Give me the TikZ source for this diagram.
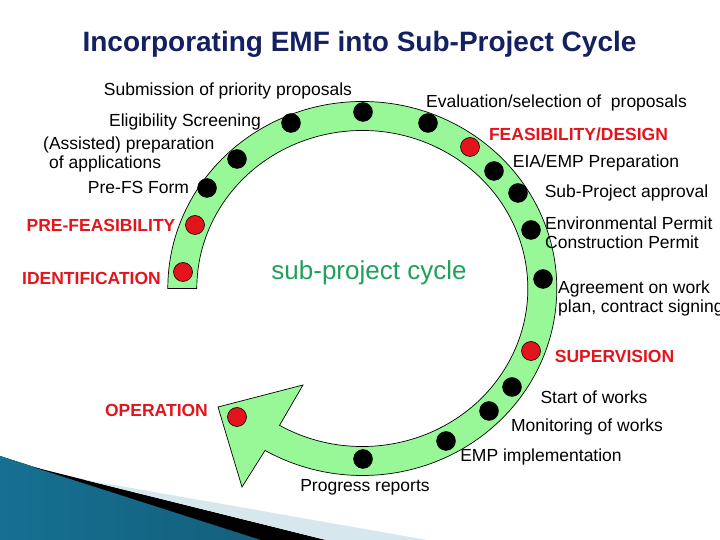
\documentclass[tikz,border=0pt]{standalone}
\usepackage{fontspec}
\setmainfont{Liberation Sans}
\usetikzlibrary{calc}
\definecolor{titlenavy}{RGB}{20,32,96}
\definecolor{phasered}{RGB}{228,20,28}
\definecolor{ringgreen}{RGB}{152,248,152}
\definecolor{cyclegreen}{RGB}{32,160,92}
\definecolor{swooshdark}{RGB}{22,112,146}
\definecolor{swooshlight}{RGB}{96,188,218}
\definecolor{swooshpale}{RGB}{214,231,238}
\tikzset{
  tasklabel/.style={font=\fontsize{17.5}{19}\selectfont, inner sep=0pt},
  phaselabel/.style={tasklabel, font=\fontsize{17.5}{19}\selectfont\bfseries, text=phasered},
  taskdot/.style={circle, draw=black, fill=black, minimum size=19pt, inner sep=0pt},
  phasedot/.style={taskdot, fill=phasered, line width=0.6pt},
  ring/.style={draw=black, fill=ringgreen, line width=0.7pt, line join=miter},
}

\begin{document}
\begin{tikzpicture}[x=1pt,y=1pt]
\fill[white] (0,0) rectangle (720,540);
\useasboundingbox (0,0) rectangle (720,540);
% corner swoosh
\fill[left color=swooshdark, middle color=swooshlight, right color=swooshdark!85!black] (0,84) -- (261,0) -- (0,0) -- cycle;
\fill[black] (33,73) -- (326,0) -- (261,0) -- cycle;
\fill[swooshpale] (83,60.5) -- (427,0) -- (326,0) -- cycle;

\node[font=\fontsize{28}{32}\selectfont\bfseries, text=titlenavy] (title) at (359.5,496) {Incorporating EMF into Sub-Project Cycle};

% the cycle band, open at the left, arrow head at lower left
\coordinate (C) at (362.3,251.5);
\draw[ring] ($(C)+(180:194.5 and 187)$)
  arc[start angle=180, end angle=-120, x radius=194.5, y radius=187]
  -- (242,53) -- (218,133) -- (303,155) -- ($(C)+(-120:165.5 and 158)$)
  arc[start angle=-120, end angle=180, x radius=165.5, y radius=158] -- cycle;

\node[text=cyclegreen, font=\fontsize{26}{30}\selectfont] (cycle) at (369,267) {sub-project cycle};

\node[phasedot] (d1) at (183,268) {};
\node[phasedot] (d2) at (195,315) {};
\node[taskdot] (d3) at (207,352) {};
\node[taskdot] (d4) at (237,381) {};
\node[taskdot] (d5) at (291,417) {};
\node[taskdot] (d6) at (363,428) {};
\node[taskdot] (d7) at (428,417) {};
\node[phasedot] (d8) at (470,393) {};
\node[taskdot] (d9) at (494,369) {};
\node[taskdot] (d10) at (518,347) {};
\node[taskdot] (d11) at (531,310) {};
\node[taskdot] (d12) at (543,261) {};
\node[phasedot] (d13) at (531,189) {};
\node[taskdot] (d14) at (512,153) {};
\node[taskdot] (d15) at (489,129) {};
\node[taskdot] (d16) at (446,99) {};
\node[taskdot] (d17) at (363,81) {};
\node[phasedot] (d18) at (237,123) {};

\node[phaselabel] (ident) at (91.5,262) {IDENTIFICATION};
\node[phaselabel] (prefeas) at (101,315) {PRE-FEASIBILITY};
\node[tasklabel] (prefs) at (138.5,353) {Pre-FS Form};
\node[tasklabel, align=left, anchor=west] (assist) at (43,385.5) {(Assisted) preparation\\\hspace*{6pt}of applications};
\node[tasklabel] (elig) at (185,418) {Eligibility Screening};
\node[tasklabel] (submit) at (228,449) {Submission of priority proposals};
\node[tasklabel] (eval) at (556.5,437) {Evaluation/selection of\ \ proposals};
\node[phaselabel] (feas) at (578.5,406) {FEASIBILITY/DESIGN};
\node[tasklabel] (eia) at (596,377) {EIA/EMP Preparation};
\node[tasklabel] (approve) at (626.5,347) {Sub-Project approval};
\node[tasklabel, align=left, anchor=west] (permit) at (545,307.5) {Environmental Permit\\Construction Permit};
\node[tasklabel, align=left, anchor=west] (agree) at (558,241.5) {Agreement on work\\plan, contract signing};
\node[phaselabel] (superv) at (614.5,184) {SUPERVISION};
\node[tasklabel] (start) at (594,143) {Start of works};
\node[tasklabel] (monitor) at (587,113) {Monitoring of works};
\node[tasklabel] (empimpl) at (541,83) {EMP implementation};
\node[tasklabel] (progress) at (365,53) {Progress reports};
\node[phaselabel] (oper) at (156.5,130) {OPERATION};
\end{tikzpicture}
\end{document}
